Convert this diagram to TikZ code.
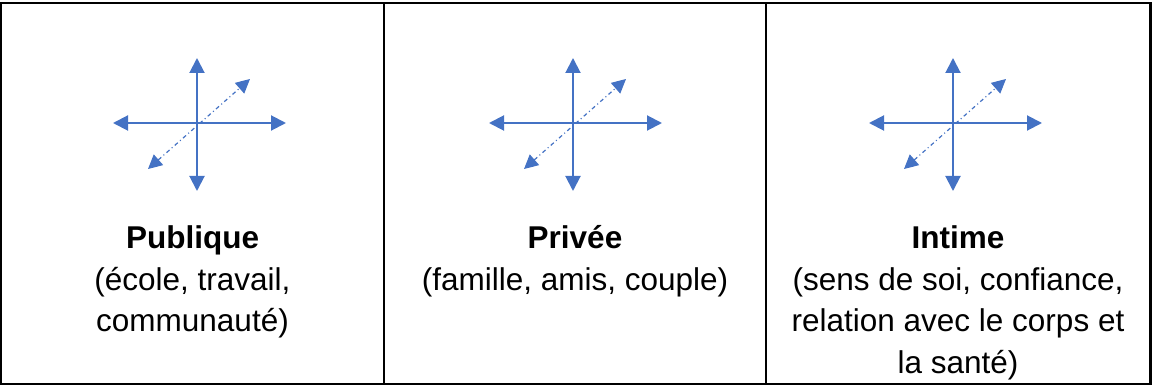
\documentclass[tikz,border=0pt]{standalone}
\usepackage{fontspec}
\setmainfont{Liberation Sans}
\usetikzlibrary{arrows.meta}
\definecolor{cblue}{HTML}{4472C4}
\tikzset{
  every picture/.style={x=1pt, y=-1pt},
  frame/.style={draw=black, line width=2.5pt},
  axis/.style={{Triangle[length=15pt, width=15pt]}-{Triangle[length=15pt, width=15pt]}, draw=cblue, line width=2pt},
  depth/.style={{Triangle[length=14pt, width=14pt]}-{Triangle[length=14pt, width=14pt]}, draw=cblue, line width=1.2pt,
    dash pattern=on 4pt off 3pt on 1pt off 3pt},
  celltext/.style={font=\fontsize{31.5}{41.7}\selectfont, align=center, inner sep=0pt, anchor=base},
}

\begin{document}
\begin{tikzpicture}
  \useasboundingbox (0,0) rectangle (1152,385);
  % table frame
  \draw[frame] (1,3) rectangle (1150.5,384);
  \draw[frame] (384,3) -- (384,384);
  \draw[frame] (766,3) -- (766,384);
  % one cell per column: cross of arrows, then its text (base = last line)
  \foreach \i/\v/\c/\n/\t in {
      1/197/192.5/3/{\textbf{Publique}\\(école, travail,\\communauté)},
      2/573/575/2/{\textbf{Privée}\\(famille, amis, couple)},
      3/953/958/4/{\textbf{Intime}\\(sens de soi, confiance,\\relation avec le corps et\\la santé)}} {
    \coordinate (w\i) at ({\v-84},123);
    \coordinate (e\i) at ({\v+89},123);
    \coordinate (n\i) at (\v,58);
    \coordinate (s\i) at (\v,191);
    \coordinate (f\i) at ({\v+53},79);
    \coordinate (b\i) at ({\v-49},169);
    \draw[axis] (w\i) -- (e\i);
    \draw[axis] (n\i) -- (s\i);
    \draw[depth] (b\i) -- (f\i);
    \node[celltext] (t\i) at (\c,{248.5+41.7*(\n-1)}) {\t};
  }
\end{tikzpicture}
\end{document}
